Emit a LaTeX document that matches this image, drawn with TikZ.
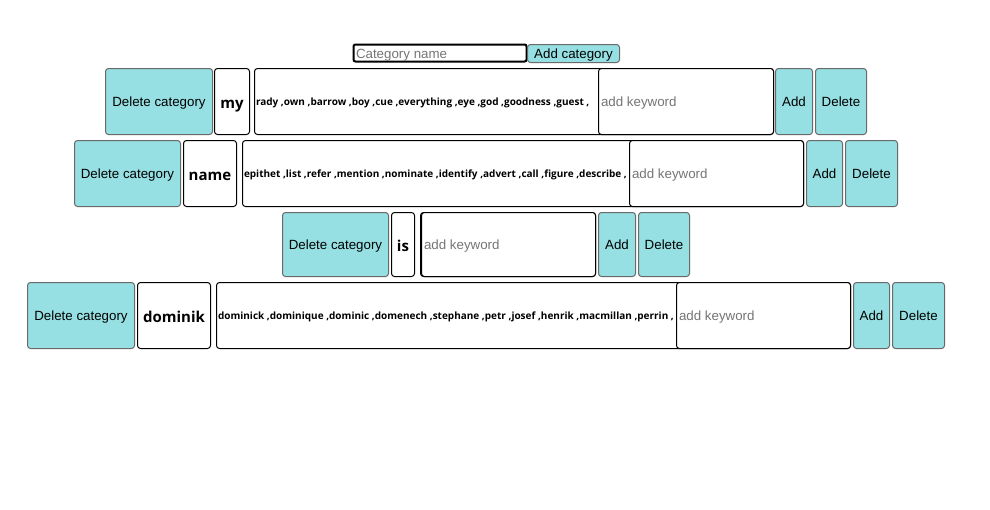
\documentclass[tikz,border=0pt]{standalone}
\usepackage{fontspec}
\setmainfont{Liberation Sans}
\newfontfamily\kwfont{Open Sans}
\definecolor{btncyan}{RGB}{150,224,227}
\definecolor{btnborder}{RGB}{105,105,105}
\definecolor{placeholder}{RGB}{117,117,117}
\tikzset{
  every node/.style={inner sep=0pt, outer sep=0pt, anchor=north west},
  cbtn/.style={draw=btnborder, fill=btncyan, line width=1pt, rounded corners=3pt,
    font=\fontsize{13.33}{16}\selectfont, align=center, text height=12pt, text depth=1.4pt},
  catlbl/.style={draw=black, fill=white, line width=1pt, rounded corners=3pt,
    font=\kwfont\bfseries\fontsize{15}{18}\selectfont, text height=14pt, text depth=0pt},
  kwbox/.style={draw=black, fill=white, line width=1pt, rounded corners=3pt},
  kwinput/.style={draw=black, fill=white, line width=1pt, rounded corners=3pt},
  kwtext/.style={anchor=west, font=\kwfont\bfseries\fontsize{10}{12}\selectfont, text height=10pt, text depth=1.4pt},
  phtext/.style={anchor=west, text=placeholder, font=\fontsize{13.33}{16}\selectfont, text height=11.5pt, text depth=2pt},
}
\begin{document}
\begin{tikzpicture}[x=1pt,y=-1pt]
\fill[white] (0,0) rectangle (990,509);
\useasboundingbox (0,0) rectangle (990,509);
% top bar
\node[draw=black, line width=2pt, rounded corners=2pt, minimum width=173, minimum height=17] (catin) at (353.5,44.5) {};
\node[phtext, text height=12pt, text depth=2pt] (catph) at (356,53) {Category name};
\node[cbtn, minimum width=92, minimum height=18] (addcat) at (527.5,44.5) {Add category};
% row 1
\node[cbtn, minimum width=107, minimum height=66] (dc1) at (105.5,68.5) {Delete category};
\node[catlbl, minimum width=35, minimum height=66] (c1) at (214.5,68.5) {my};
\node[kwbox, minimum width=519, minimum height=66] (kb1) at (254.5,68.5) {};
\node[kwtext] (kt1) at (256,101.5) {rady ,own ,barrow ,boy ,cue ,everything ,eye ,god ,goodness ,guest ,};
\node[kwinput, minimum width=175, minimum height=66] (in1) at (598.5,68.5) {};
\node[phtext] (ph1) at (601,101.5) {add keyword};
\node[cbtn, minimum width=37, minimum height=66] (ad1) at (775.5,68.5) {Add};
\node[cbtn, minimum width=51, minimum height=66] (de1) at (815.5,68.5) {Delete};
% row 2
\node[cbtn, minimum width=106, minimum height=66] (dc2) at (74.5,140.5) {Delete category};
\node[catlbl, minimum width=53, minimum height=66] (c2) at (183.5,140.5) {name};
\node[kwbox, minimum width=561, minimum height=66] (kb2) at (242.5,140.5) {};
\node[kwtext] (kt2) at (244,173.5) {epithet ,list ,refer ,mention ,nominate ,identify ,advert ,call ,figure ,describe ,};
\node[kwinput, minimum width=174, minimum height=66] (in2) at (629.5,140.5) {};
\node[phtext] (ph2) at (632,173.5) {add keyword};
\node[cbtn, minimum width=36, minimum height=66] (ad2) at (806.5,140.5) {Add};
\node[cbtn, minimum width=52, minimum height=66] (de2) at (845.5,140.5) {Delete};
% row 3
\node[cbtn, minimum width=106, minimum height=64] (dc3) at (282.5,212.5) {Delete category};
\node[catlbl, minimum width=23, minimum height=64] (c3) at (391.5,212.5) {is};
\node[kwbox, minimum width=175, minimum height=64] (kb3) at (420.5,212.5) {};
\node[kwinput, minimum width=174, minimum height=64] (in3) at (421.5,212.5) {};
\node[phtext] (ph3) at (424,244.5) {add keyword};
\node[cbtn, minimum width=37, minimum height=64] (ad3) at (598.5,212.5) {Add};
\node[cbtn, minimum width=51, minimum height=64] (de3) at (638.5,212.5) {Delete};
% row 4
\node[cbtn, minimum width=107, minimum height=66] (dc4) at (27.5,282.5) {Delete category};
\node[catlbl, minimum width=73, minimum height=66] (c4) at (137.5,282.5) {dominik};
\node[kwbox, minimum width=634, minimum height=66] (kb4) at (216.5,282.5) {};
\node[kwtext] (kt4) at (218,315.5) {dominick ,dominique ,dominic ,domenech ,stephane ,petr ,josef ,henrik ,macmillan ,perrin ,};
\node[kwinput, minimum width=174, minimum height=66] (in4) at (676.5,282.5) {};
\node[phtext] (ph4) at (679,315.5) {add keyword};
\node[cbtn, minimum width=36, minimum height=66] (ad4) at (853.5,282.5) {Add};
\node[cbtn, minimum width=52, minimum height=66] (de4) at (892.5,282.5) {Delete};
\end{tikzpicture}
\end{document}
